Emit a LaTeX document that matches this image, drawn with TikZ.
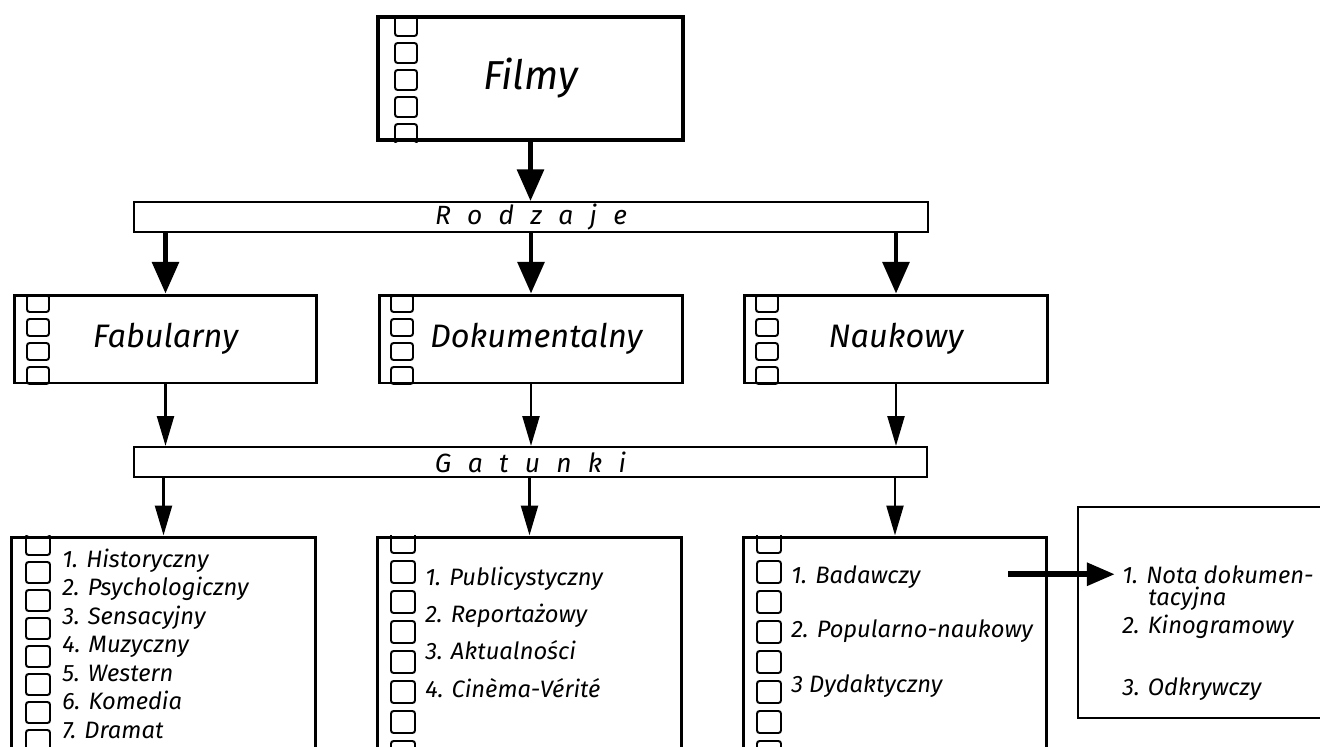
\documentclass[tikz,border=0pt]{standalone}
\usepackage{fontspec}
\setmainfont{Fira Sans}
\usetikzlibrary{arrows.meta}
\newcommand{\spacedtext}[1]{\spaceskip=0.62em\relax #1}

\begin{document}
\begin{tikzpicture}[x=0.02cm, y=-0.02cm,
    box/.style={draw, line width=1.7pt, inner sep=0pt},
    topbox/.style={box, line width=2.3pt, minimum width=6.1cm, minimum height=2.46cm,
      font=\itshape\fontsize{23}{27}\selectfont},
    kindbox/.style={box, minimum width=6.06cm, minimum height=1.76cm,
      font=\itshape\fontsize{18.5}{22}\selectfont},
    bar/.style={draw, line width=1.1pt, inner sep=0pt, minimum width=15.88cm, minimum height=0.6cm,
      font=\itshape\fontsize{15}{18}\selectfont},
    listbox/.style={box, minimum width=6.08cm, minimum height=5cm},
    item/.style={inner sep=0pt, anchor=base west, font=\itshape\fontsize{13.5}{16}\selectfont},
    perf/.style={line width=1.1pt, rounded corners=1.5pt},
    bigarrow/.style={line width=2.8pt, -{Triangle[length=18pt, width=15pt]}},
    smallarrow/.style={line width=1.7pt, -{Triangle[length=17pt, width=9.5pt]}},
    sidearrow/.style={line width=3.4pt, -{Triangle[length=16pt, width=12.5pt]}}]

  \useasboundingbox (0,0) rectangle (1320,747);
  \clip (0,0) rectangle (1320,747);

  % boxes
  \node[topbox] (filmy) at (530.5,78.5) {Filmy};
  \node[bar] (rodzaje) at (531,217) {\spacedtext{R o d z a j e}};

  \node[kindbox] (fab) at (165.5,339) {Fabularny};
  \node[kindbox] (dok) at (531,339) {\hspace{6pt}Dokumentalny};
  \node[kindbox] (nauk) at (896,339) {Naukowy};

  \node[bar] (gatunki) at (530.5,462) {\spacedtext{G a t u n k i}};

  \node[listbox] (fablist) at (163.5,662) {};
  \node[listbox] (doklist) at (529.5,662) {};
  \node[listbox] (nauklist) at (895,662) {};
  \node[box, line width=1.3pt, minimum width=5.24cm, minimum height=4.22cm] (extra) at (1209,612.5) {};

  % film perforations
  \begin{scope}
    \clip (filmy.south west) rectangle (filmy.north east);
    \foreach \k in {0,...,4} \draw[perf] (395,16+27*\k) rectangle +(22,20);
  \end{scope}
  \foreach \b/\x in {fab/27, dok/391, nauk/756} {
    \begin{scope}
      \clip (\b.south west) rectangle (\b.north east);
      \foreach \k in {0,...,3} \draw[perf] (\x,295+24*\k) rectangle +(22,17);
    \end{scope}
  }
  \begin{scope}
    \clip (fablist.south west) rectangle (fablist.north east);
    \foreach \k in {0,...,7} \draw[perf] (26,534+28*\k) rectangle +(24,21);
  \end{scope}
  \foreach \b/\x in {doklist/391, nauklist/757} {
    \begin{scope}
      \clip (\b.south west) rectangle (\b.north east);
      \foreach \k in {0,...,7} \draw[perf] (\x,531+30*\k) rectangle +(24,22);
    \end{scope}
  }

  % lists
  \node[item] (fab1) at (62,567) {1. Historyczny};
  \node[item] (fab2) at (62,595.5) {2. Psychologiczny};
  \node[item] (fab3) at (62,624) {3. Sensacyjny};
  \node[item] (fab4) at (62,652.5) {4. Muzyczny};
  \node[item] (fab5) at (62,681) {5. Western};
  \node[item] (fab6) at (62,709.5) {6. Komedia};
  \node[item] (fab7) at (62,738) {7. Dramat};

  \node[item] (dok1) at (425,585) {1. Publicystyczny};
  \node[item] (dok2) at (425,622) {2. Reportażowy};
  \node[item] (dok3) at (425,659) {3. Aktualności};
  \node[item] (dok4) at (425,697) {4. Cinèma-Vérité};

  \node[item] (nauk1) at (791,583) {1. Badawczy};
  \node[item] (nauk2) at (791,637.5) {2. Popularno-naukowy};
  \node[item] (nauk3) at (791,692) {3 Dydaktyczny};

  \node[item] (extra1) at (1122,583) {1. Nota dokumen-};
  \node[item] (extra1b) at (1148,605) {tacyjna};
  \node[item] (extra2) at (1122,633) {2. Kinogramowy};
  \node[item] (extra3) at (1122,695) {3. Odkrywczy};

  % arrows
  \draw[bigarrow] (filmy.south) -- (rodzaje.north -| filmy.south);
  \foreach \b in {fab, dok, nauk} {
    \draw[bigarrow] (rodzaje.south -| \b.north) -- (\b.north);
    \draw[smallarrow] (\b.south) -- (gatunki.north -| \b.south);
  }
  \foreach \b in {fablist, doklist, nauklist}
    \draw[smallarrow] (gatunki.south -| \b.north) -- (\b.north);

  \coordinate (badtail) at (1008,574);
  \draw[sidearrow] (extra1.west -| badtail) -- ([xshift=-4pt]extra1.west);
\end{tikzpicture}
\end{document}
